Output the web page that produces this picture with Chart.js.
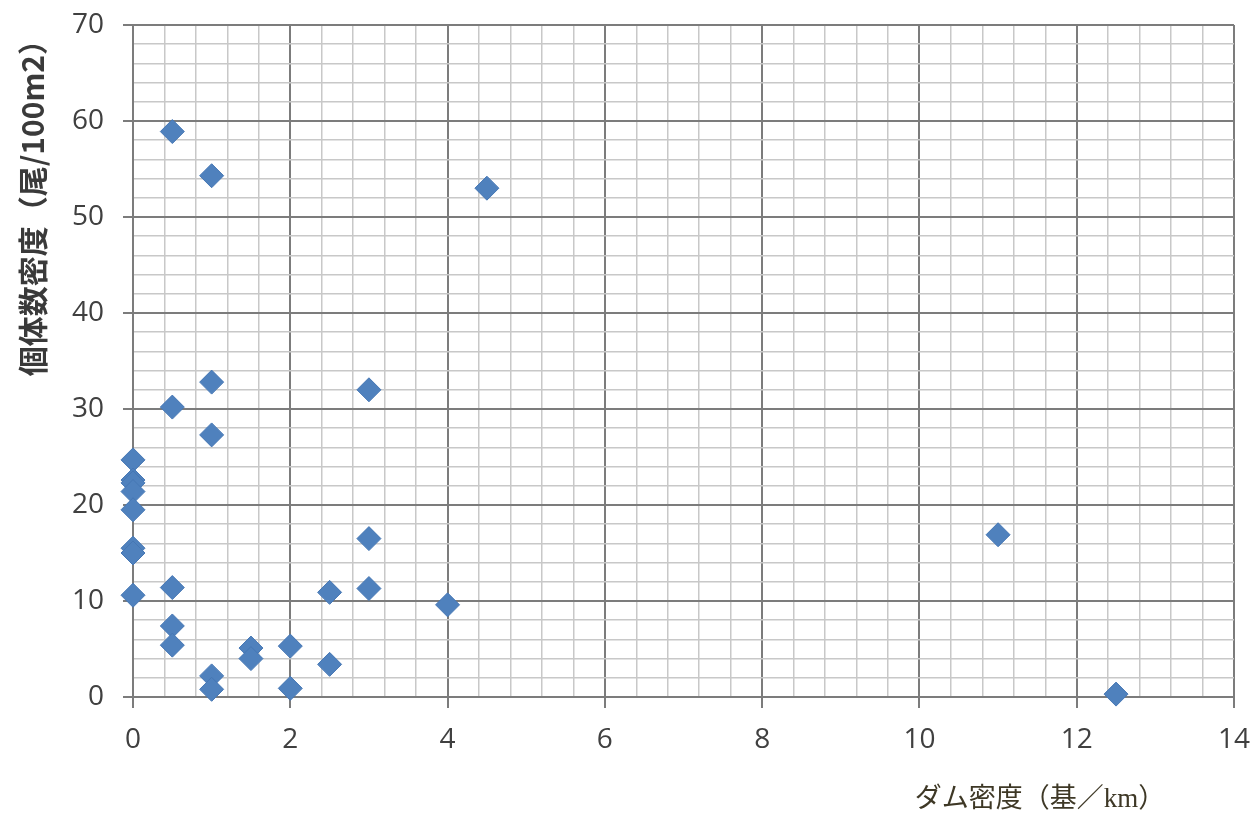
<!DOCTYPE html>
<html>
<head>
<meta charset="utf-8">
<script src="https://cdn.jsdelivr.net/npm/chart.js@4/dist/chart.umd.min.js"></script>
<style>
  html, body { margin: 0; padding: 0; background: #fff; }
  canvas { display: block; }
</style>
</head>
<body>
<canvas id="damChart" width="1255" height="815"></canvas>
<script>
// dam density (per km) vs fish density (per 100m2)
const damDensity = [0, 0, 0, 0, 0, 0, 0, 0,
  0.5, 0.5, 0.5, 0.5, 0.5,
  1, 1, 1, 1, 1,
  1.5, 1.5,
  2, 2,
  2.5, 2.5,
  3, 3, 3,
  4, 4.5, 11, 12.5];
const fishDensity = [24.7, 22.6, 22.3, 21.4, 19.5, 15.5, 15.0, 10.6,
  58.9, 30.2, 11.4, 7.4, 5.4,
  54.3, 32.8, 27.3, 2.2, 0.8,
  5.1, 4.0,
  5.3, 0.9,
  10.9, 3.4,
  32.0, 16.5, 11.3,
  9.6, 53.0, 16.9, 0.3];
const xMajorTicks = [0, 2, 4, 6, 8, 10, 12, 14];
const yMajorTicks = [0, 10, 20, 30, 40, 50, 60, 70];
const xTitle = 'ダム密度（基／km）';
const yTitle = '個体数密度（尾/100m2）';

const isMajor = (v, list) => list.some(m => Math.abs(m - v) < 1e-6);
const majorColor = '#7c7c7c';
const minorColor = '#c8c8c8';

// x axis title sits bottom-right, drawn by hand
const xTitlePlugin = {
  id: 'xTitle',
  afterDraw(chart) {
    const ctx = chart.ctx;
    ctx.save();
    ctx.font = '27px "Liberation Serif", "Noto Sans CJK JP", serif';
    ctx.fillStyle = '#3e3826';
    ctx.textAlign = 'center';
    ctx.textBaseline = 'middle';
    ctx.fillText(xTitle, 1040, 800);
    ctx.restore();
  }
};

new Chart(document.getElementById('damChart').getContext('2d'), {
  type: 'scatter',
  data: {
    datasets: [{
      label: yTitle,
      data: damDensity.map((x, i) => ({ x: x, y: fishDensity[i] })),
      pointStyle: 'rectRot',
      pointRadius: 12,
      pointHoverRadius: 12,
      backgroundColor: '#4f81bd',
      borderColor: '#4677b4',
      borderWidth: 1,
      clip: false
    }]
  },
  options: {
    responsive: false,
    animation: false,
    layout: { padding: { top: 25, right: 21, left: 0, bottom: 0 } },
    plugins: {
      legend: { display: false },
      tooltip: { enabled: false }
    },
    scales: {
      x: {
        type: 'linear',
        min: 0,
        max: 14,
        afterFit: s => { s.height = 118; s.paddingLeft = 0; s.paddingRight = 0; },
        border: { color: majorColor, width: 2 },
        grid: {
          color: c => isMajor(c.tick.value, xMajorTicks) ? majorColor : minorColor,
          lineWidth: c => isMajor(c.tick.value, xMajorTicks) ? 2 : 1.5,
          tickColor: c => isMajor(c.tick.value, xMajorTicks) ? majorColor : 'rgba(0,0,0,0)',
          tickLength: 11
        },
        ticks: {
          stepSize: 0.4,
          autoSkip: false,
          maxRotation: 0,
          padding: 15,
          color: '#404040',
          font: { family: '"Open Sans", sans-serif', size: 28 },
          callback: v => isMajor(v, xMajorTicks) ? Math.round(v) : ''
        }
      },
      y: {
        type: 'linear',
        min: 0,
        max: 70,
        afterFit: s => { s.width = 133; s.paddingTop = 0; s.paddingBottom = 0; },
        border: { color: majorColor, width: 2 },
        grid: {
          color: c => isMajor(c.tick.value, yMajorTicks) ? majorColor : minorColor,
          lineWidth: c => isMajor(c.tick.value, yMajorTicks) ? 2 : 1.5,
          tickColor: c => isMajor(c.tick.value, yMajorTicks) ? majorColor : 'rgba(0,0,0,0)',
          tickLength: 10
        },
        ticks: {
          stepSize: 2,
          autoSkip: false,
          padding: 19,
          color: '#404040',
          font: { family: '"Open Sans", sans-serif', size: 28 },
          callback: v => isMajor(v, yMajorTicks) ? Math.round(v) : ''
        },
        title: {
          display: true,
          text: yTitle,
          align: 'end',
          color: '#3a3a3a',
          padding: { top: 15, bottom: 0 },
          font: { family: '"Noto Sans CJK JP", sans-serif', size: 30, weight: 'bold', lineHeight: 1.2 }
        }
      }
    }
  },
  plugins: [xTitlePlugin]
});
</script>
</body>
</html>
